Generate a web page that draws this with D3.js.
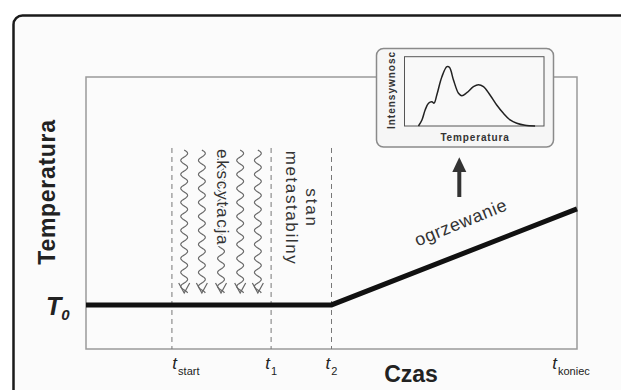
<!DOCTYPE html>
<html>
<head>
<meta charset="utf-8">
<script src="https://cdn.jsdelivr.net/npm/d3@7"></script>
<style>
  body { margin: 0; background: #fff; }
  text { font-family: "Liberation Sans", Arial, sans-serif; }
</style>
</head>
<body>
<svg id="svg-scheme"></svg>
<script>
var width = 621,
    height = 390;

// temperature profile (arbitrary units, time 0..100, temperature 0..100)
const heatTime = [0, 50, 100];
const heatTemp = [16.2, 16.2, 51.5];

// marked moments on the time axis
const markTimes = [17.5, 37.7, 50, 100];
const markNames = ["start", "1", "2", "koniec"];
const dashedTimes = [17.5, 37.7, 50];

// wavy excitation arrows
const excitationTimes = [20.0, 23.6, 27.5, 31.4, 35.0];

// inset glow curve (temperature vs intensity)
const glowT = [10, 12.5, 14.8, 17.2, 19.6, 21.2, 23.2, 26.8, 30.4, 32.2, 35.1, 38.7, 41.1, 44.7, 49.4, 53, 56.6, 61.3, 66.1, 70.9, 75.7, 80.5, 86.4, 93.6];
const glowI = [0, 8.7, 23.1, 32.8, 35, 33, 45, 71.1, 85.6, 84.7, 66.4, 47.2, 43.7, 48.1, 56.7, 59.6, 56.7, 44.7, 30.3, 18.3, 8.7, 3.9, 1, 0];

const svg = d3.select('#svg-scheme')
    .attr('width', width)
    .attr('height', height);

const x = d3.scaleLinear().domain([0, 100]).range([86, 577]),
      y = d3.scaleLinear().domain([0, 100]).range([349, 77]);

// outer frame (cut off at right and bottom)
svg.append('rect')
    .attr('x', 13.5).attr('y', 15.5)
    .attr('width', 700).attr('height', 500)
    .attr('rx', 9)
    .attr('fill', '#fbfbfb')
    .attr('stroke', '#1a1a1a')
    .attr('stroke-width', 2.5);

// plot box
svg.append('rect')
    .attr('x', x(0)).attr('y', y(100))
    .attr('width', x(100) - x(0)).attr('height', y(0) - y(100))
    .attr('fill', 'none')
    .attr('stroke', '#9a9a9a')
    .attr('stroke-width', 1.5);

// dashed markers
svg.append('g')
  .selectAll('line')
    .data(dashedTimes)
    .enter().append('line')
    .attr('x1', d => x(d)).attr('x2', d => x(d))
    .attr('y1', y(73.9)).attr('y2', y(0))
    .attr('stroke', '#777')
    .attr('stroke-width', 1)
    .attr('stroke-dasharray', '5,4');

// wavy arrows
const waveTop = y(73.2), waveTip = y(20.6);
function wavePath(cx) {
  let pts = [];
  for (let yy = waveTop; yy <= waveTip; yy += 0.5) {
    pts.push([cx + 3.4 * Math.sin(2 * Math.PI * (yy - waveTop) / 14), yy]);
  }
  return d3.line()(pts);
}
const waves = svg.append('g').attr('class', 'g-waves');
excitationTimes.forEach((t) => {
  let cx = x(t);
  waves.append('path')
      .attr('d', wavePath(cx))
      .attr('fill', 'none')
      .attr('stroke', '#666')
      .attr('stroke-width', 1.2);
  waves.append('path')
      .attr('d', d3.line()([[cx - 5.5, waveTip - 10], [cx, waveTip], [cx + 5.5, waveTip - 10]]))
      .attr('fill', 'none')
      .attr('stroke', '#666')
      .attr('stroke-width', 1.2);
});

// heating profile
svg.append('path')
    .datum(heatTime.map((t, i) => [t, heatTemp[i]]))
    .attr('d', d3.line().x(d => x(d[0])).y(d => y(d[1])))
    .attr('fill', 'none')
    .attr('stroke', '#111')
    .attr('stroke-width', 5);

// vertical annotations
svg.append('text')
    .attr('transform', 'translate(' + (x(excitationTimes[2]) - 4) + ',' + 149 + ') rotate(90)')
    .attr('font-size', 17)
    .attr('letter-spacing', 1.8)
    .attr('fill', '#333')
    .attr('stroke', '#fbfbfb')
    .attr('stroke-width', 3)
    .attr('paint-order', 'stroke')
    .text('ekscytacja');

const midMeta = x((markTimes[1] + markTimes[2]) / 2);
svg.append('text')
    .attr('transform', 'translate(' + (midMeta + 5) + ',' + 208 + ') rotate(90)')
    .attr('font-size', 17)
    .attr('letter-spacing', 1.8)
    .attr('text-anchor', 'middle')
    .attr('fill', '#333')
    .text('stan');
svg.append('text')
    .attr('transform', 'translate(' + (midMeta - 15.5) + ',' + 208 + ') rotate(90)')
    .attr('font-size', 17)
    .attr('letter-spacing', 1.6)
    .attr('text-anchor', 'middle')
    .attr('fill', '#333')
    .text('metastabilny');

// heating label
svg.append('text')
    .attr('transform', 'translate(461,223) rotate(-22)')
    .attr('font-size', 18)
    .attr('letter-spacing', 0.6)
    .attr('text-anchor', 'middle')
    .attr('dy', '0.3em')
    .attr('fill', '#333')
    .text('ogrzewanie');

// axis titles
svg.append('text')
    .attr('transform', 'translate(55,192) rotate(-90)')
    .attr('font-size', 23)
    .attr('font-weight', 'bold')
    .attr('letter-spacing', 0.7)
    .attr('text-anchor', 'middle')
    .attr('fill', '#222')
    .text('Temperatura');

svg.append('text')
    .attr('x', 411).attr('y', 382)
    .attr('font-size', 23)
    .attr('font-weight', 'bold')
    .attr('text-anchor', 'middle')
    .attr('fill', '#222')
    .text('Czas');

// T0 label
const t0 = svg.append('text')
    .attr('x', 46).attr('y', y(heatTemp[0]) + 10)
    .attr('fill', '#222')
    .attr('font-style', 'italic')
    .attr('font-weight', 'bold');
t0.append('tspan').attr('font-size', 25).text('T');
t0.append('tspan').attr('font-size', 15).attr('dy', 5).text('0');

// time labels
const labelDx = [14, 0, 0, -6];
markTimes.forEach((t, i) => {
  let lab = svg.append('text')
      .attr('x', x(t) + labelDx[i]).attr('y', 369)
      .attr('text-anchor', 'middle')
      .attr('fill', '#222');
  lab.append('tspan').attr('font-size', 17).attr('font-style', 'italic').text('t');
  lab.append('tspan').attr('font-size', 11).attr('dy', 6).attr('dx', 1).text(markNames[i]);
});

// arrow towards inset
svg.append('line')
    .attr('x1', 459.3).attr('x2', 459.3)
    .attr('y1', 197).attr('y2', 170)
    .attr('stroke', '#333')
    .attr('stroke-width', 4);
svg.append('path')
    .attr('d', d3.line()([[452.3, 172], [459.3, 157.3], [466.3, 172]]) + 'Z')
    .attr('fill', '#333');

// inset
const inset = svg.append('g').attr('class', 'g-inset');
inset.append('rect')
    .attr('x', 376.5).attr('y', 48.5)
    .attr('width', 177).attr('height', 98.5)
    .attr('rx', 7)
    .attr('fill', '#f6f6f6')
    .attr('stroke', '#8a8a8a')
    .attr('stroke-width', 1.5);

const ix = d3.scaleLinear().domain([0, 100]).range([404.5, 544]),
      iy = d3.scaleLinear().domain([0, 100]).range([126, 56.7]);

inset.append('rect')
    .attr('x', ix(0)).attr('y', iy(100))
    .attr('width', ix(100) - ix(0)).attr('height', iy(0) - iy(100))
    .attr('fill', '#f9f9f9')
    .attr('stroke', '#555')
    .attr('stroke-width', 1);

inset.append('path')
    .datum(glowT.map((t, i) => [t, glowI[i]]))
    .attr('d', d3.line().x(d => ix(d[0])).y(d => iy(d[1])).curve(d3.curveCatmullRom))
    .attr('fill', 'none')
    .attr('stroke', '#222')
    .attr('stroke-width', 1.5);

inset.append('text')
    .attr('transform', 'translate(395,90) rotate(-90)')
    .attr('font-size', 10)
    .attr('font-weight', 'bold')
    .attr('letter-spacing', 1)
    .attr('text-anchor', 'middle')
    .attr('fill', '#333')
    .text('Intensywnosc');

inset.append('text')
    .attr('x', 475).attr('y', 140.7)
    .attr('font-size', 10)
    .attr('font-weight', 'bold')
    .attr('letter-spacing', 0.85)
    .attr('text-anchor', 'middle')
    .attr('fill', '#333')
    .text('Temperatura');
</script>
</body>
</html>
